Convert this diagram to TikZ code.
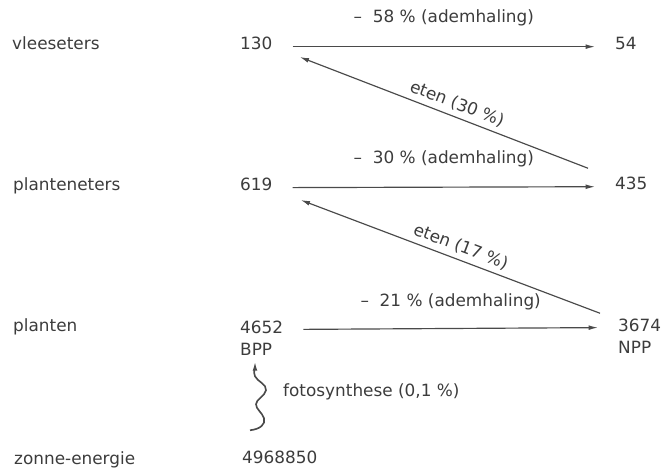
\documentclass[tikz,border=0pt]{standalone}
\usepackage{fontspec}
\setmainfont{DejaVu Sans}
\usetikzlibrary{arrows.meta}
\definecolor{ink}{HTML}{3C3C3C}
\definecolor{pijl}{HTML}{4A4A4A}

\begin{document}
\begin{tikzpicture}[x=0.03cm, y=-0.03cm, ink,
    font=\fontsize{14.4}{17}\selectfont,
    txt/.style={anchor=base west, inner sep=0pt},
    flow/.style={pijl, line width=1pt, -{Latex[length=8pt,width=4pt]}},
    stap/.style={flow, shorten <=17pt, shorten >=17pt},
    lbl/.style={ink, inner sep=0pt}]
    \useasboundingbox (0,0) rectangle (666,471);
    % niveaus
    \node[txt] (vl) at (12,49) {vleeseters};
    \node[txt] (pe) at (13,190) {planteneters};
    \node[txt] (pl) at (13,331) {planten};
    \node[txt] (ze) at (14,464) {zonne-energie};
    % energie per niveau
    \node[txt] (v1) at (240,49) {130};
    \node[txt] (v2) at (615,49) {54};
    \node[txt] (p1) at (240,190) {619};
    \node[txt] (p2) at (615,189) {435};
    \node[txt] (b1) at (240,333) {4652};
    \node[txt] (bpp) at (240,355) {BPP};
    \node[txt] (n1) at (618,331) {3674};
    \node[txt] (npp) at (618,353) {NPP};
    \node[txt] (zo) at (242,463) {4968850};
    % ademhaling
    \draw[stap] ([yshift=2pt]v1.base east) -- ([yshift=2pt]v2.base west)
        node[lbl, midway, above=17pt] {--~ 58 \% (ademhaling)};
    \draw[stap] ([yshift=2pt]p1.base east) -- ([yshift=2pt]p2.base west)
        node[lbl, midway, above=17pt] {--~ 30 \% (ademhaling)};
    \draw[stap] ([yshift=3pt]b1.base east) -- ([yshift=3pt]n1.base west)
        node[lbl, midway, above=15pt] {--~ 21 \% (ademhaling)};
    % eten
    \draw[flow] ([shift={(-27,-8)}]p2.north west) -- ([shift={(27,8)}]v1.base east)
        node[lbl, sloped, above=4pt, pos=0.47] {eten (30 \%)};
    \draw[flow] ([shift={(-18,-5)}]n1.north west) -- ([shift={(28,10)}]p1.base east)
        node[lbl, sloped, above=4pt, pos=0.48] {eten (17 \%)};
    % fotosynthese
    \draw[flow, line width=1.4pt] ([shift={(8,-20)}]zo.north west)
        .. controls +(10,-1) and +(2,6) .. ++(14,-12)
        .. controls +(-2,-6) and +(0,5) .. ++(-8,-14)
        .. controls +(0,-5) and +(-1,6) .. ++(10,-14)
        .. controls +(1,-6) and +(2,5) .. ++(-11,-14)
        .. controls +(-2,-5) and +(0,6) .. ++(0,-15);
    \node[txt] (fs) at (283,396) {fotosynthese (0,1 \%)};
\end{tikzpicture}
\end{document}
